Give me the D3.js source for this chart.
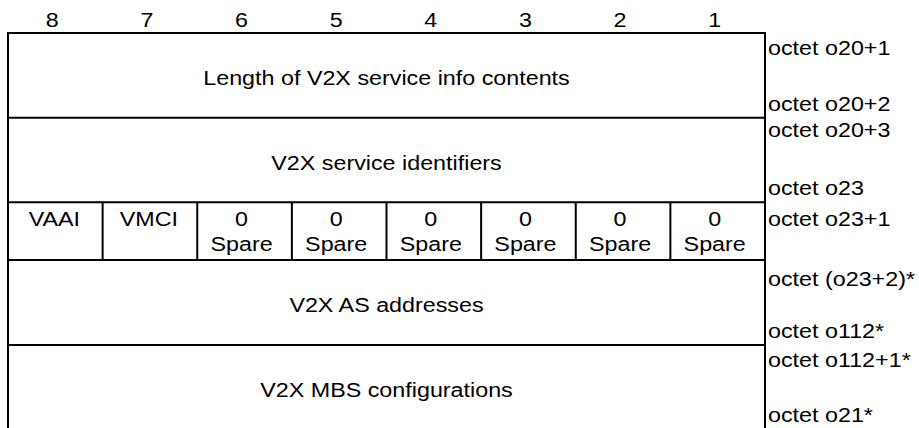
<!DOCTYPE html>
<html>
<head>
<meta charset="utf-8">
<script src="https://cdn.jsdelivr.net/npm/d3@7"></script>
<style>
  html, body { margin: 0; padding: 0; background: #fff; }
  svg { display: block; }
  text { font-family: "Liberation Sans", Arial, sans-serif; font-size: 21px; fill: #000; }
</style>
</head>
<body>
<svg id="chart" width="919" height="428"></svg>
<script>
// ---- data ----
const bitLabels = ["8", "7", "6", "5", "4", "3", "2", "1"];
const fieldRows = ["Length of V2X service info contents", "V2X service identifiers", "FLAGS", "V2X AS addresses", "V2X MBS configurations"];
const flagTop = ["VAAI", "VMCI", "0", "0", "0", "0", "0", "0"];
const flagBottom = ["", "", "Spare", "Spare", "Spare", "Spare", "Spare", "Spare"];
const octetFirst = ["octet o20+1", "octet o20+3", "octet o23+1", "octet (o23+2)*", "octet o112+1*"];
const octetLast = ["octet o20+2", "octet o23", "", "octet o112*", "octet o21*"];

// ---- layout ----
const svg = d3.select("#chart");
const left = 8, right = 765;
const rowEdges = [33, 117.7, 202.3, 260, 345, 430];
const sx = 1.11; // horizontal stretch of glyphs

const x = d3.scaleBand().domain(bitLabels).range([left, right]);
const rowIdx = d3.range(fieldRows.length);
const yTop = d3.scaleOrdinal().domain(rowIdx).range(rowEdges.slice(0, -1));
const yBot = d3.scaleOrdinal().domain(rowIdx).range(rowEdges.slice(1));

function txt(g, xx, yy, s, anchor) {
  g.append("text")
    .attr("transform", `translate(${xx},${yy}) scale(${sx},1)`)
    .attr("text-anchor", anchor || "middle")
    .text(s);
}

const lines = svg.append("g").attr("stroke", "#000").attr("stroke-width", 2).attr("fill", "none");
// outer verticals
lines.append("line").attr("x1", left).attr("x2", left).attr("y1", rowEdges[0] - 1).attr("y2", 428);
lines.append("line").attr("x1", right).attr("x2", right).attr("y1", rowEdges[0] - 1).attr("y2", 428);
// horizontals
rowEdges.slice(0, -1).forEach(y => {
  lines.append("line").attr("x1", left - 1).attr("x2", right + 1).attr("y1", y).attr("y2", y);
});
// flag row verticals
const flagRow = 2;
bitLabels.slice(1).forEach(b => {
  lines.append("line").attr("x1", x(b)).attr("x2", x(b))
    .attr("y1", yTop(flagRow)).attr("y2", yBot(flagRow));
});

const t = svg.append("g");
// bit numbers
bitLabels.forEach(b => txt(t, x(b) + x.bandwidth() / 2 - 3, 27, b));

// field rows
rowIdx.forEach(i => {
  if (i === flagRow) {
    bitLabels.forEach((b, j) => {
      const cx = x(b) + x.bandwidth() / 2 - (j >= 2 ? 3 : 1);
      txt(t, cx, yTop(i) + 23.5, flagTop[j]);
      if (flagBottom[j]) txt(t, cx, yTop(i) + 49, flagBottom[j]);
    });
  } else {
    txt(t, (left + right) / 2, yTop(i) + 52, fieldRows[i]);
  }
});

// octet labels
const firstOff = [22, 19, 23.5, 26, 22];
const lastOff = [-7, -7, 0, -7, 0];
rowIdx.forEach(i => {
  txt(t, right + 3, yTop(i) + firstOff[i], octetFirst[i], "start");
  if (octetLast[i]) {
    const yy = i === 4 ? 422 : yBot(i) + lastOff[i];
    txt(t, right + 3, yy, octetLast[i], "start");
  }
});
</script>
</body>
</html>
